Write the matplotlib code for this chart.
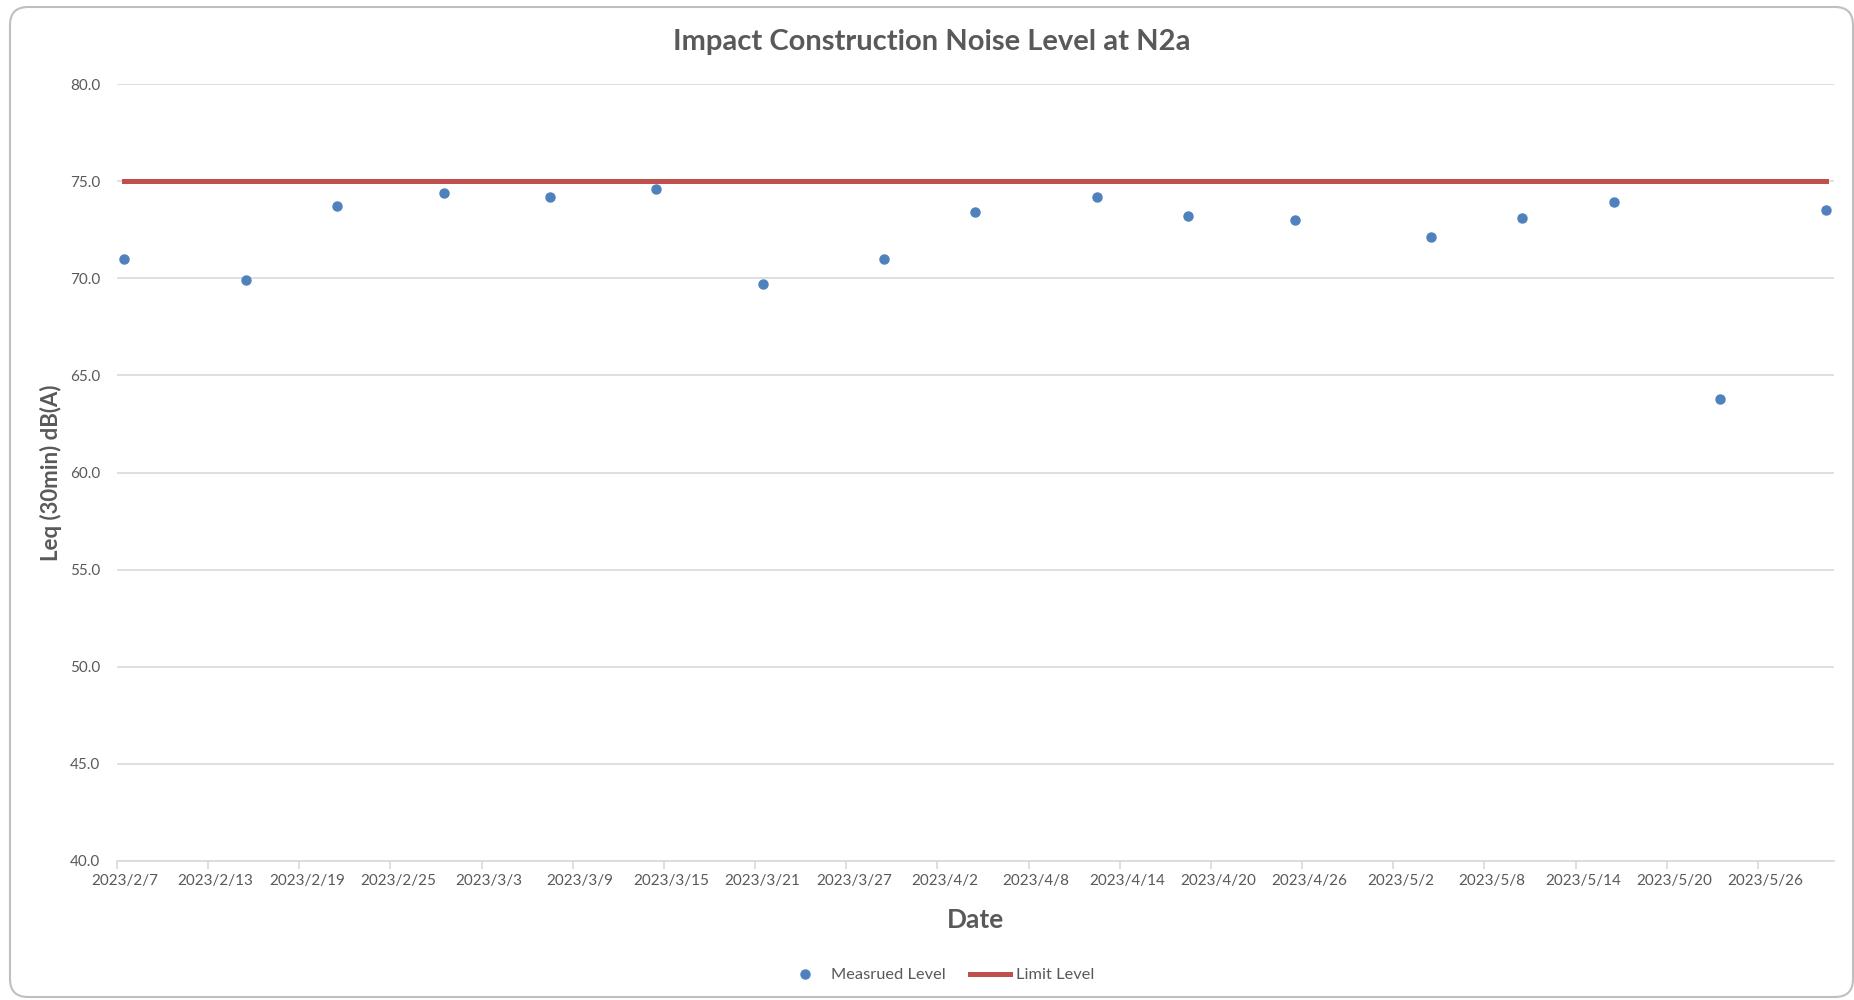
import pandas as pd
import matplotlib.pyplot as plt
from matplotlib.patches import FancyBboxPatch
from matplotlib.transforms import IdentityTransform
import matplotlib.dates as mdates

plt.rcParams['font.family'] = ['Lato', 'DejaVu Sans']

# data
fechas = ["2023-02-07", "2023-02-15", "2023-02-21", "2023-02-28", "2023-03-07",
          "2023-03-14", "2023-03-21", "2023-03-29", "2023-04-04", "2023-04-12",
          "2023-04-18", "2023-04-25", "2023-05-04", "2023-05-10", "2023-05-16",
          "2023-05-23", "2023-05-30"]
medido = [71.0, 69.9, 73.7, 74.4, 74.2, 74.6, 69.7, 71.0, 73.4, 74.2,
          73.2, 73.0, 72.1, 73.1, 73.9, 63.8, 73.5]
limite = [75.0] * len(fechas)

eje_inicio = "2023-02-07"
eje_fin = "2023-05-30"
paso_dias = 6

gris = "#595959"
azul = "#4F81BD"
rojo = "#C0504D"

x = mdates.date2num(pd.to_datetime(fechas))
x0 = mdates.date2num(pd.Timestamp(eje_inicio))
x1 = mdates.date2num(pd.Timestamp(eje_fin))

fig = plt.figure(figsize=(18.54, 10), dpi=100)
ax = fig.add_axes([116.8 / 1854, 1 - 861 / 1000, (1834 - 116.8) / 1854, (861 - 84) / 1000])

ax.plot(x, medido, "o", color=azul, markersize=6.5, label="Measrued Level", zorder=3)
ax.plot(x, limite, "-", color=rojo, linewidth=3.6, label="Limit Level", zorder=2)

ax.set_xlim(x0 - 0.5, x1 + 0.5)
ax.set_ylim(40, 80)

# y axis
yticks = list(range(40, 81, 5))
ax.set_yticks(yticks)
ax.set_yticklabels([f"{v:.1f}" for v in yticks], color=gris, fontsize=11)
ax.tick_params(axis="y", length=0, pad=12)
ax.grid(axis="y", color="#d9d9d9", linewidth=1.2, zorder=0)

# x axis: tick marks at day borders, labels at day centres
centros = [x0 + k for k in range(0, int(x1 - x0) + 1, paso_dias)]
ax.set_xticks([c - 0.5 for c in centros])
ax.set_xticklabels([])
ax.tick_params(axis="x", which="major", length=6, color="#d9d9d9", width=1.2)
ax.set_xticks(centros, minor=True)
etiquetas = [f"{d.year}/{d.month}/{d.day}" for d in mdates.num2date(centros)]
ax.set_xticklabels(etiquetas, minor=True, color=gris, fontsize=11)
ax.tick_params(axis="x", which="minor", length=0, pad=9)

for lado in ["top", "left", "right"]:
    ax.spines[lado].set_visible(False)
ax.spines["bottom"].set_color("#d9d9d9")
ax.spines["bottom"].set_linewidth(1.2)

ax.set_xlabel("Date", fontsize=19, fontweight="bold", color=gris, labelpad=15)
ax.set_ylabel("Leq (30min) dB(A)", fontsize=16, fontweight="bold", color=gris, labelpad=6)

fig.text(932 / 1854, 1 - 42 / 1000, "Impact Construction Noise Level at N2a",
         ha="center", va="center", fontsize=21, fontweight="bold", color=gris)

fig.legend(loc="center", bbox_to_anchor=(940 / 1854, 1 - 975 / 1000), ncol=2,
           frameon=False, fontsize=11.8, labelcolor=gris, handlelength=2.4,
           columnspacing=1.5, handletextpad=0.4)

# rounded chart border
borde = FancyBboxPatch((10, 3), 1843, 990, boxstyle="round,pad=0,rounding_size=18",
                       transform=IdentityTransform(), facecolor="none",
                       edgecolor="#bfbfbf", linewidth=1.5)
fig.patches.append(borde)

fig.savefig("out.png", dpi=100)
